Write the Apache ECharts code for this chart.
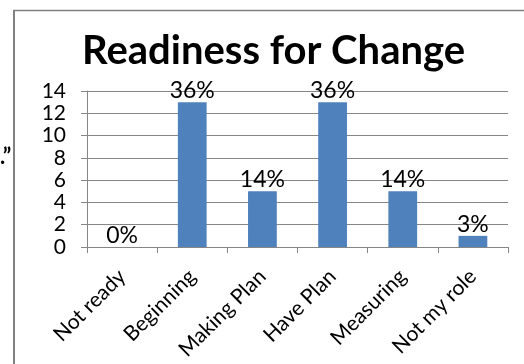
<!DOCTYPE html>
<html><head><meta charset="utf-8">
<script src="https://cdn.jsdelivr.net/npm/echarts@6/dist/echarts.min.js"></script>
<style>html,body{margin:0;padding:0;background:#fff}#c{width:524px;height:364px}</style>
</head><body><div id="c"></div>
<script>
const categories = ['Not ready','Beginning','Making Plan','Have Plan','Measuring','Not my role'];
const counts = [0, 13, 5, 13, 5, 1];
const percentLabels = ['0%','36%','14%','36%','14%','3%'];
const yTicks = [0,2,4,6,8,10,12,14];

const chart = echarts.init(document.getElementById('c'), null, {renderer:'canvas'});
const font = 'Lato, "Noto Sans", sans-serif';
chart.setOption({
  animation:false,
  backgroundColor:'#fff',
  title:{text:'Readiness for Change', left:77, top:26,
    textStyle:{fontFamily:font, fontWeight:'bold', fontSize:40, color:'#000'}},
  grid:{left:87, right:16, top:91, bottom:117, containLabel:false},
  xAxis:{type:'category', data:categories,
    axisLine:{lineStyle:{color:'#868686', width:1}},
    axisTick:{show:true, length:6, alignWithLabel:false, lineStyle:{color:'#868686'}},
    axisLabel:{rotate:45, interval:0, fontFamily:font, fontSize:21, color:'#000', margin:26}},
  yAxis:{type:'value', min:yTicks[0], max:yTicks[yTicks.length-1], interval:2,
    axisLine:{show:true, lineStyle:{color:'#868686'}},
    axisTick:{show:true, length:6, lineStyle:{color:'#868686'}},
    axisLabel:{fontFamily:font, fontSize:21, color:'#000', margin:21, showMinLabel:true, showMaxLabel:true, hideOverlap:false},
    splitLine:{lineStyle:{color:'#868686', width:1}}},
  series:[{type:'bar', data:counts, barWidth:'41%',
    itemStyle:{color:'#4F81BD'},
    label:{show:true, position:'top', distance:0, fontFamily:font, fontSize:23, color:'#000',
      formatter:p=>percentLabels[p.dataIndex]}}],
  graphic:[
    {type:'line', shape:{x1:14, y1:10, x2:14, y2:364}, style:{stroke:'#808080', lineWidth:2}},
    {type:'line', shape:{x1:13, y1:10.5, x2:524, y2:10.5}, style:{stroke:'#808080', lineWidth:1.5}},
    {type:'text', left:0, top:146, style:{text:'.\u201D', fontFamily:font, fontSize:22, fontWeight:'bold', fill:'#000'}}
  ]
});
</script></body></html>
